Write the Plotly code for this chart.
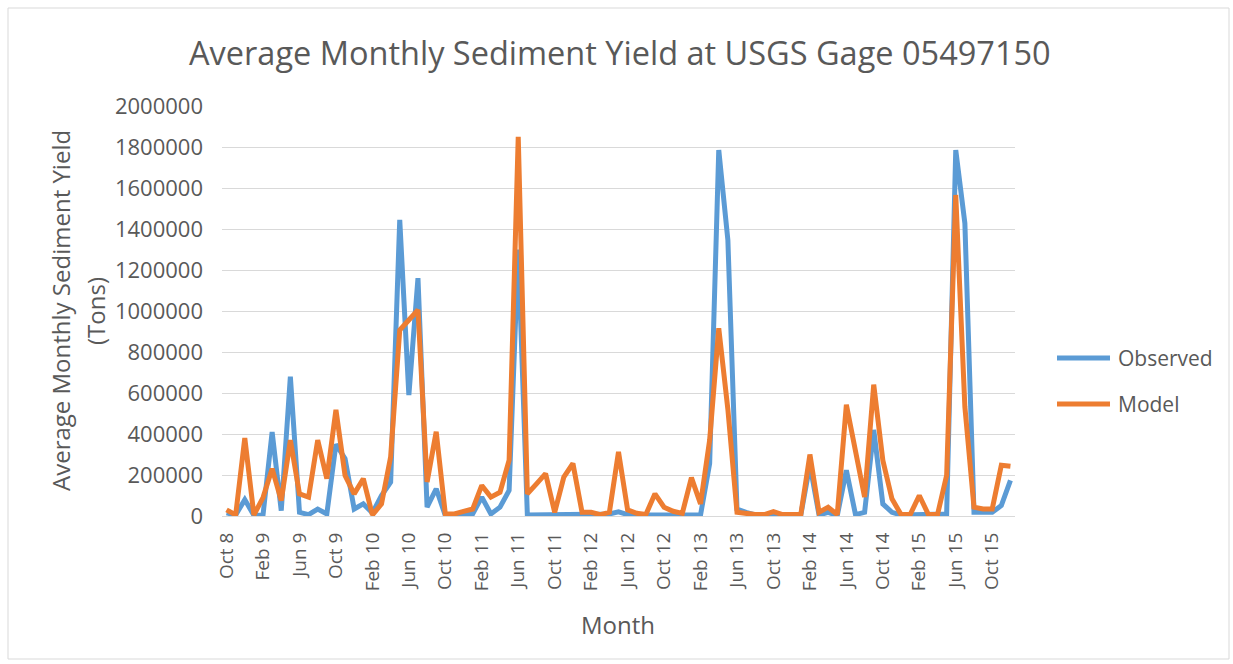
import plotly.graph_objects as go

# Monthly series, Oct 2008 - Dec 2015 (tons)
month_names = ["Jan", "Feb", "Mar", "Apr", "May", "Jun",
               "Jul", "Aug", "Sep", "Oct", "Nov", "Dec"]
months = []
for k in range(87):
    m = (9 + k) % 12
    yr = 8 + (9 + k) // 12
    months.append(f"{month_names[m]} {yr}")

observed = [
    15000, 5000, 80000, 3000, 5000, 410000, 26000, 680000, 18000, 7000,
    34000, 10000, 350000, 280000, 34000, 59000, 15000, 100000, 165000, 1445000,
    590000, 1160000, 43000, 133000, 2000, 2000, 5000, 10000, 92000, 10000,
    43000, 125000, 1300000, 5000, 5000, 5000, 5000, 5000, 5000, 5000,
    5000, 5000, 10000, 20000, 7000, 5000, 5000, 5000, 5000, 5000,
    5000, 5000, 5000, 256000, 1785000, 1346000, 34000, 18000, 5000, 5000,
    5000, 5000, 5000, 5000, 250000, 5000, 18000, 2000, 223000, 7000,
    18000, 420000, 59000, 18000, 5000, 5000, 5000, 5000, 5000, 10000,
    1785000, 1428000, 18000, 18000, 18000, 51000, 174000,
]

model = [
    30000, 5000, 380000, 5000, 90000, 231000, 75000, 370000, 108000, 92000,
    370000, 182000, 518000, 198000, 108000, 182000, 5000, 59000, 288000, 907000,
    956000, 1005000, 166000, 411000, 10000, 10000, 23000, 34000, 149000, 92000,
    116000, 272000, 1850000, 108000, 157000, 207000, 18000, 190000, 256000, 18000,
    18000, 7000, 18000, 313000, 30000, 13000, 7000, 108000, 43000, 23000,
    13000, 187000, 59000, 370000, 916000, 520000, 18000, 10000, 7000, 7000,
    21000, 7000, 7000, 7000, 300000, 18000, 43000, 7000, 543000, 321000,
    92000, 641000, 272000, 84000, 7000, 7000, 100000, 7000, 7000, 198000,
    1566000, 533000, 43000, 34000, 34000, 248000, 243000,
]

tick_labels = ["Oct 8", "Feb 9", "Jun 9", "Oct 9", "Feb 10", "Jun 10",
               "Oct 10", "Feb 11", "Jun 11", "Oct 11", "Feb 12", "Jun 12",
               "Oct 12", "Feb 13", "Jun 13", "Oct 13", "Feb 14", "Jun 14",
               "Oct 14", "Feb 15", "Jun 15", "Oct 15"]
tick_positions = [months[i] for i in range(0, 87, 4)]

BLUE = "#5B9BD5"
ORANGE = "#ED7D31"
TEXT = "#595959"
GRID = "#D9D9D9"
FONT = "Open Sans"
LW = 5

fig = go.Figure()
fig.add_trace(go.Scatter(x=months, y=observed, mode="lines", name="Observed",
                         line=dict(color=BLUE, width=LW), showlegend=False))
fig.add_trace(go.Scatter(x=months, y=model, mode="lines", name="Model",
                         line=dict(color=ORANGE, width=LW), showlegend=False))

W, H = 1233, 664
L, R, T, B = 222, 218, 106, 148
pw, ph = W - L - R, H - T - B


def px(x):
    return (x - L) / pw


def py(y):
    return (H - B - y) / ph


fig.update_layout(
    width=W, height=H,
    margin=dict(l=L, r=R, t=T, b=B),
    paper_bgcolor="white", plot_bgcolor="white",
    font=dict(family=FONT, color=TEXT),
    xaxis=dict(
        type="category", range=[-0.5, 86.5],
        tickmode="array", tickvals=tick_positions, ticktext=tick_labels,
        tickangle=-90, tickfont=dict(size=19, color=TEXT, family=FONT),
        showgrid=False, showline=True, linecolor=GRID, linewidth=1,
        ticks="", ticklabelstandoff=8, zeroline=False,
    ),
    yaxis=dict(
        range=[0, 2000000], dtick=200000, tickformat="d",
        tickfont=dict(size=22, color=TEXT, family=FONT),
        showgrid=True, gridcolor=GRID, gridwidth=1,
        zeroline=False, showline=False, ticks="", ticklabelstandoff=18,
    ),
)

# chart frame
fig.add_shape(type="rect", xref="paper", yref="paper",
              x0=px(8), x1=px(1229), y0=py(659), y1=py(8),
              line=dict(color=GRID, width=1), fillcolor="rgba(0,0,0,0)",
              layer="below")

annotations = [
    dict(text="Average Monthly Sediment Yield at USGS Gage 05497150",
         x=px(620), y=py(52), font=dict(size=32.5, color=TEXT, family=FONT)),
    dict(text="Month", x=px(618), y=py(624),
         font=dict(size=24, color=TEXT, family=FONT)),
    dict(text="Average Monthly Sediment Yield", x=px(60), y=py(311),
         textangle=-90, font=dict(size=24, color=TEXT, family=FONT)),
    dict(text="(Tons)", x=px(95), y=py(311),
         textangle=-90, font=dict(size=24, color=TEXT, family=FONT)),
    dict(text="Observed", x=px(1116), y=py(358), xanchor="left",
         font=dict(size=21, color=TEXT, family=FONT)),
    dict(text="Model", x=px(1116), y=py(404), xanchor="left",
         font=dict(size=21, color=TEXT, family=FONT)),
]
for a in annotations:
    a.setdefault("xanchor", "center")
    fig.add_annotation(xref="paper", yref="paper", showarrow=False,
                       yanchor="middle", **a)

# legend swatches
for yy, col in [(358, BLUE), (404, ORANGE)]:
    fig.add_shape(type="line", xref="paper", yref="paper",
                  x0=px(1057), x1=px(1110), y0=py(yy), y1=py(yy),
                  line=dict(color=col, width=LW))

fig.write_html("out.html")
